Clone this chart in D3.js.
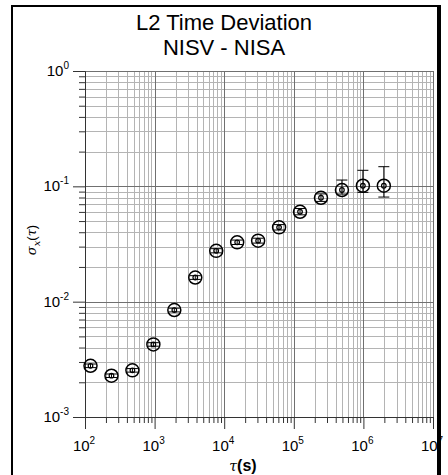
<!DOCTYPE html>
<html>
<head>
<meta charset="utf-8">
<script src="https://cdn.jsdelivr.net/npm/d3@7"></script>
<style>
  html, body { margin: 0; padding: 0; background: #fff; }
  svg { display: block; }
</style>
</head>
<body>
<svg id="chart" width="448" height="475"></svg>
<script>
// ---- data ----
const titleLines = ["L2 Time Deviation", "NISV - NISA"];
const tau = [120, 240, 480, 960, 1920, 3840, 7680, 15360, 30720, 61440, 122880, 245760, 491520, 983040, 1966080];
const sigma = [0.00278, 0.00228, 0.00254, 0.00426, 0.00846, 0.0162, 0.0276, 0.0327, 0.0338, 0.0441, 0.0602, 0.0796, 0.0929, 0.1012, 0.1012];
const errLow = [0.00268, 0.00220, 0.00245, 0.00411, 0.00815, 0.0156, 0.0265, 0.0313, 0.0322, 0.0418, 0.0566, 0.0740, 0.0857, 0.0887, 0.0807];
const errHigh = [0.00288, 0.00236, 0.00263, 0.00441, 0.00878, 0.0168, 0.0288, 0.0342, 0.0355, 0.0466, 0.0642, 0.0860, 0.1134, 0.1377, 0.1480];
const xTickExps = [2, 3, 4, 5, 6, 7];
const yTickExps = [0, -1, -2, -3];

(function () {
// ---- layout ----
const svg = d3.select("#chart");
const pL = 85, pR = 433, pT = 71, pB = 417;
const x = d3.scaleLog().domain([1e2, 1e7]).range([pL, pR]);
const y = d3.scaleLog().domain([1e-3, 1]).range([pB, pT]);

// outer frame
svg.append("rect").attr("x", 12).attr("y", 6).attr("width", 426).attr("height", 480)
  .attr("fill", "none").attr("stroke", "#000").attr("stroke-width", 2);
svg.append("line").attr("x1", 439).attr("x2", 439).attr("y1", 5).attr("y2", 475)
  .attr("stroke", "#000").attr("stroke-width", 4);

// title
svg.append("g").selectAll("text").data(titleLines).join("text")
  .attr("x", 224).attr("y", (d, i) => 30 + i * 25)
  .attr("text-anchor", "middle")
  .attr("font-family", "Liberation Sans, Arial, sans-serif")
  .attr("font-size", 22).attr("fill", "#000")
  .text(d => d);

// minor values
const xMinor = [], yMinor = [];
xTickExps.slice(0, -1).forEach(e => { for (let m = 2; m <= 9; m++) xMinor.push(m * Math.pow(10, e)); });
yTickExps.slice(1).forEach(e => { for (let m = 2; m <= 9; m++) yMinor.push(m * Math.pow(10, e)); });
const xMajor = xTickExps.map(e => Math.pow(10, e));
const yMajor = yTickExps.map(e => Math.pow(10, e));

// grid
const grid = svg.append("g").attr("shape-rendering", "crispEdges");
grid.selectAll(".xmin").data(xMinor).join("line")
  .attr("x1", d => Math.round(x(d)) + 0.5).attr("x2", d => Math.round(x(d)) + 0.5)
  .attr("y1", pT).attr("y2", pB).attr("stroke", "#b4b4b4").attr("stroke-width", 1);
grid.selectAll(".ymin").data(yMinor).join("line")
  .attr("y1", d => Math.round(y(d)) + 0.5).attr("y2", d => Math.round(y(d)) + 0.5)
  .attr("x1", pL).attr("x2", pR).attr("stroke", "#b4b4b4").attr("stroke-width", 1);
grid.selectAll(".xmaj").data(xMajor).join("line")
  .attr("x1", d => Math.round(x(d)) + 0.5).attr("x2", d => Math.round(x(d)) + 0.5)
  .attr("y1", pT).attr("y2", pB).attr("stroke", "#707070").attr("stroke-width", 1);
grid.selectAll(".ymaj").data(yMajor).join("line")
  .attr("y1", d => Math.round(y(d)) + 0.5).attr("y2", d => Math.round(y(d)) + 0.5)
  .attr("x1", pL).attr("x2", pR).attr("stroke", "#707070").attr("stroke-width", 1);

// axes (ticks)
const axStyle = g => { g.select(".domain").attr("stroke", "#333"); g.selectAll(".tick line").attr("stroke", "#333"); g.selectAll("text").remove(); };
svg.append("g").attr("transform", `translate(0,${pB})`)
  .call(d3.axisBottom(x).tickValues(xMinor).tickSize(6).tickSizeOuter(0)).call(axStyle);
svg.append("g").attr("transform", `translate(0,${pB})`)
  .call(d3.axisBottom(x).tickValues(xMajor).tickSize(12).tickSizeOuter(0)).call(axStyle);
svg.append("g").attr("transform", `translate(${pL},0)`)
  .call(d3.axisLeft(y).tickValues(yMinor).tickSize(6).tickSizeOuter(0)).call(axStyle);
svg.append("g").attr("transform", `translate(${pL},0)`)
  .call(d3.axisLeft(y).tickValues(yMajor).tickSize(12).tickSizeOuter(0)).call(axStyle);

// tick labels
const font = "Liberation Sans, Arial, sans-serif";
const xl = svg.append("g").selectAll("text").data(xTickExps).join("text")
  .attr("x", d => x(Math.pow(10, d)) - 1).attr("y", 451)
  .attr("text-anchor", "middle").attr("font-family", font).attr("font-size", 15).attr("fill", "#000");
xl.append("tspan").text("10");
xl.append("tspan").attr("dy", -7).attr("font-size", 10).text(d => d);

const yl = svg.append("g").selectAll("text").data(yTickExps).join("text")
  .attr("x", 69).attr("y", d => y(Math.pow(10, d)) + 5)
  .attr("text-anchor", "end").attr("font-family", font).attr("font-size", 15).attr("fill", "#000");
yl.append("tspan").text("10");
yl.append("tspan").attr("dy", -7).attr("font-size", 10).text(d => d);

// axis titles
const xt = svg.append("text").attr("x", 243).attr("y", 471).attr("text-anchor", "middle").attr("fill", "#000");
xt.append("tspan").attr("font-family", "DejaVu Serif, serif").attr("font-style", "italic").attr("font-size", 14).text("τ");
xt.append("tspan").attr("font-family", font).attr("font-weight", "bold").attr("font-size", 16).text("(s)");

const yt = svg.append("text").attr("transform", "translate(36,240) rotate(-90)")
  .attr("text-anchor", "middle").attr("fill", "#000")
  .attr("font-family", "DejaVu Serif, serif").attr("font-style", "italic").attr("font-size", 13);
yt.append("tspan").text("σ");
yt.append("tspan").attr("dy", 4).attr("font-size", 10).text("x");
yt.append("tspan").attr("dy", -4).attr("font-style", "normal").attr("font-family", font).text("(");
yt.append("tspan").text("τ");
yt.append("tspan").attr("font-style", "normal").attr("font-family", font).text(")");

// data points
const pts = tau.map((t, i) => ({ t, s: sigma[i], lo: errLow[i], hi: errHigh[i] }));
const pg = svg.append("g").selectAll("g").data(pts).join("g");
pg.append("line").attr("x1", d => x(d.t)).attr("x2", d => x(d.t))
  .attr("y1", d => y(d.lo)).attr("y2", d => y(d.hi)).attr("stroke", "#000").attr("stroke-width", 1);
pg.append("line").attr("x1", d => x(d.t) - 5.5).attr("x2", d => x(d.t) + 5.5)
  .attr("y1", d => y(d.hi)).attr("y2", d => y(d.hi)).attr("stroke", "#000").attr("stroke-width", 1);
pg.append("line").attr("x1", d => x(d.t) - 5.5).attr("x2", d => x(d.t) + 5.5)
  .attr("y1", d => y(d.lo)).attr("y2", d => y(d.lo)).attr("stroke", "#000").attr("stroke-width", 1);
pg.append("circle").attr("cx", d => x(d.t)).attr("cy", d => y(d.s)).attr("r", 6.5)
  .attr("fill", "none").attr("stroke", "#000").attr("stroke-width", 1.5);
pg.append("circle").attr("cx", d => x(d.t)).attr("cy", d => y(d.s)).attr("r", 2.3)
  .attr("fill", "none").attr("stroke", "#000").attr("stroke-width", 1.2);
})();
</script>
</body>
</html>
